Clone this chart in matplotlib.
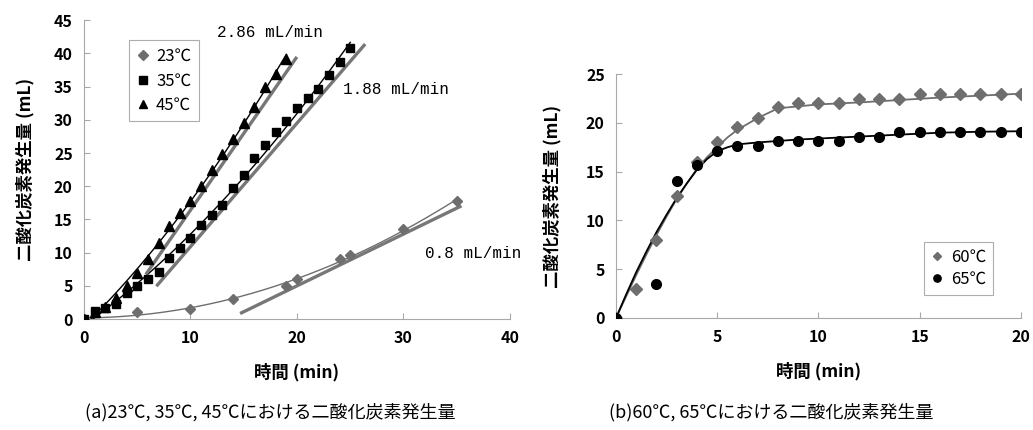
import numpy as np
import matplotlib
matplotlib.use("Agg")
import matplotlib.pyplot as plt

plt.rcParams['font.family'] = ['Noto Sans CJK JP', 'DejaVu Sans']

# ---------------- data (a) ----------------
t23 = [0, 5, 10, 14, 19, 20, 24, 25, 30, 35]
v23 = [0, 1.1, 1.5, 3.0, 5.0, 6.0, 9.0, 9.6, 13.5, 17.8]
t35 = list(range(0, 26))
v35 = [0, 1.2, 1.7, 2.2, 3.9, 5.0, 6.0, 7.1, 9.2, 10.7, 12.2, 14.2, 15.6, 17.2,
       19.8, 21.7, 24.2, 26.2, 28.2, 29.8, 31.8, 33.3, 34.6, 36.7, 38.7, 40.8]
t45 = list(range(0, 20))
v45 = [0, 1.1, 1.8, 3.2, 5.0, 6.9, 9.0, 11.4, 14.0, 16.0, 17.8, 20.0, 22.4,
       24.8, 27.1, 29.5, 32.0, 35.0, 36.9, 39.2]
# linear-region lines: slope, intercept, x range
lin_slope = [0.78, 1.86, 2.31]
lin_icpt = [-10.6, -7.7, -6.7]
lin_x0 = [14.8, 6.9, 5.9]
lin_x1 = [35.3, 26.3, 19.9]
rate_labels = ['0.8 mL/min', '1.88 mL/min', '2.86 mL/min']
rate_pos = [(32.0, 9.9), (24.3, 34.5), (12.5, 43.1)]

# ---------------- data (b) ----------------
t60 = list(range(0, 21))
v60 = [0, 3.0, 8.0, 12.5, 16.0, 18.0, 19.6, 20.5, 21.6, 22, 22, 22, 22.5, 22.5,
       22.5, 23, 23, 23, 23, 23, 23]
t65 = [0] + list(range(2, 21))
v65 = [0, 3.5, 14.0, 15.7, 17.1, 17.6, 17.6, 18.1, 18.1, 18.1, 18.1, 18.6, 18.6,
       19.1, 19.1, 19.1, 19.1, 19.1, 19.1, 19.1]
fit_x = [0, 0.5, 1, 1.5, 2, 2.5, 3, 3.5, 4, 4.5, 5, 5.5, 6, 7, 8, 9, 10, 12, 14, 16, 18, 20]
fit60 = [0, 2.2, 4.4, 6.5, 8.5, 10.4, 12.2, 13.8, 15.3, 16.5, 17.5, 18.5, 19.3,
         20.5, 21.5, 21.7, 21.9, 22.1, 22.35, 22.6, 22.8, 23.0]
fit65 = [0, 2.4, 4.7, 6.8, 8.8, 10.6, 12.3, 13.8, 15.2, 16.3, 17.1, 17.5, 17.8,
         18.0, 18.15, 18.3, 18.4, 18.6, 18.8, 19.0, 19.1, 19.15]

GRAY = '#6e6e6e'
SPINE = '#a8a8a8'

fig = plt.figure(figsize=(10.33, 4.30), dpi=100)
axa = fig.add_axes([0.0813, 0.258, 0.4124, 0.695])
axb = fig.add_axes([0.5963, 0.2605, 0.392, 0.567])


def style(ax):
    for s in ['top', 'right']:
        ax.spines[s].set_visible(False)
    for s in ['left', 'bottom']:
        ax.spines[s].set_color(SPINE)
        ax.spines[s].set_linewidth(0.8)
    ax.tick_params(direction='in', color=SPINE, length=4, width=0.8,
                   labelsize=11.5, pad=8)
    for lab in ax.get_xticklabels() + ax.get_yticklabels():
        lab.set_fontweight('bold')


# ---- (a) ----
xs = np.linspace(0, 35, 200)
c = np.polyfit(t23, v23, 2)
axa.plot(xs, np.polyval(c, xs), color=GRAY, lw=1.0, zorder=2)
xs = np.linspace(0, 25, 200)
c = np.polyfit(t35, v35, 2)
axa.plot(xs, np.polyval(c, xs), color='black', lw=1.0, zorder=2)
xs = np.linspace(0, 19, 200)
c = np.polyfit(t45, v45, 2)
axa.plot(xs, np.polyval(c, xs), color='black', lw=1.0, zorder=2)

for m, b, x0, x1 in zip(lin_slope, lin_icpt, lin_x0, lin_x1):
    xx = np.array([x0, x1])
    axa.plot(xx, m * xx + b, color='#777777', lw=2.4, zorder=3)

axa.plot(t23, v23, linestyle='none', marker='D', ms=5.5, color=GRAY, label='23℃', zorder=4)
axa.plot(t35, v35, linestyle='none', marker='s', ms=6, color='black', label='35℃', zorder=4)
axa.plot(t45, v45, linestyle='none', marker='^', ms=7, color='black', label='45℃', zorder=4)

for txt, (x, y) in zip(rate_labels, rate_pos):
    axa.text(x, y, txt, fontsize=11.5, family='Liberation Mono', va='center', ha='left')

axa.set_xlim(0, 40)
axa.set_ylim(0, 45)
axa.set_xticks(range(0, 41, 10))
axa.set_yticks(range(0, 46, 5))
style(axa)
axa.set_xlabel('時間 (min)', fontsize=12.5, fontweight='bold', labelpad=12)
axa.set_ylabel('二酸化炭素発生量 (mL)', fontsize=12.5, fontweight='bold', labelpad=14)
lg = axa.legend(loc='upper left', bbox_to_anchor=(0.085, 0.96), fontsize=12,
                frameon=True, fancybox=False, edgecolor='#999999',
                handlelength=0.8, handletextpad=0.4, borderpad=0.45,
                labelspacing=0.45, markerscale=0.85)
lg.get_frame().set_linewidth(0.8)

# ---- (b) ----
axb.plot(fit_x, fit60, color=GRAY, lw=1.3, zorder=2)
axb.plot(fit_x, fit65, color='black', lw=1.3, zorder=2)
axb.plot(t60, v60, linestyle='none', marker='D', ms=6, color=GRAY, label='60℃', zorder=4)
axb.plot(t65, v65, linestyle='none', marker='o', ms=7, color='black', label='65℃', zorder=4)
axb.set_xlim(0, 20)
axb.set_ylim(0, 25)
axb.set_xticks(range(0, 21, 5))
axb.set_yticks(range(0, 26, 5))
style(axb)
axb.set_xlabel('時間 (min)', fontsize=12.5, fontweight='bold', labelpad=12)
axb.set_ylabel('二酸化炭素発生量 (mL)', fontsize=12.5, fontweight='bold', labelpad=18)
lg = axb.legend(loc='upper left', bbox_to_anchor=(0.74, 0.345), fontsize=12,
                frameon=True, fancybox=False, edgecolor='#999999',
                handlelength=0.8, handletextpad=0.4, borderpad=0.4,
                labelspacing=0.3, markerscale=0.75)
lg.get_frame().set_linewidth(0.8)

fig.text(270 / 1033, 1 - 412 / 430, '(a)23℃, 35℃, 45℃における二酸化炭素発生量',
         ha='center', va='center', fontsize=13)
fig.text(771 / 1033, 1 - 412 / 430, '(b)60℃, 65℃における二酸化炭素発生量',
         ha='center', va='center', fontsize=13)

fig.savefig('out.png', dpi=100)
